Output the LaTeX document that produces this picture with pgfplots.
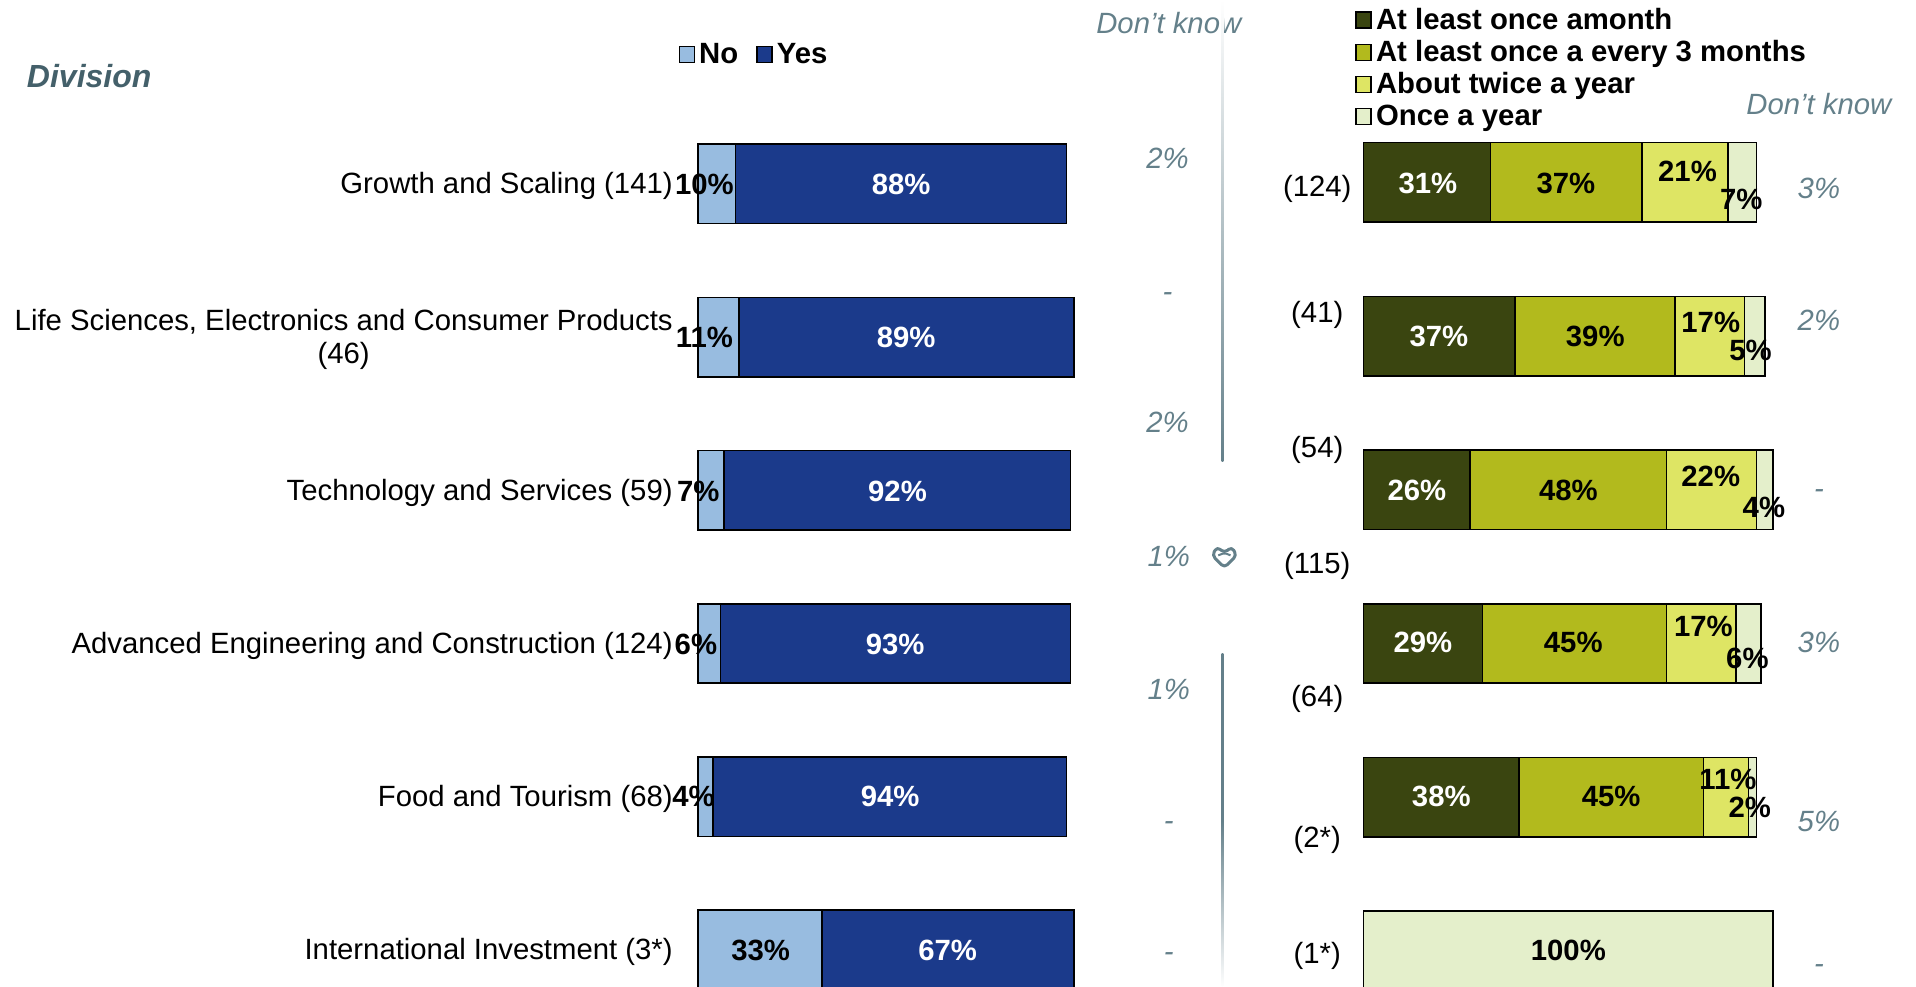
\documentclass[border=0pt]{standalone}
\usepackage{pgfplots}
\pgfplotsset{compat=1.18}
\usepackage{fontspec}
\setmainfont{Liberation Sans}
\definecolor{cNo}{HTML}{98BCE0}
\definecolor{cYes}{HTML}{1B3A8B}
\definecolor{cA}{HTML}{3A4510}
\definecolor{cB}{HTML}{B2BA1D}
\definecolor{cC}{HTML}{DEE564}
\definecolor{cD}{HTML}{E4EFCB}
\definecolor{cGrey}{HTML}{64808A}
\definecolor{cDiv}{HTML}{44606A}
\pgfplotsset{
  common/.style={
    scale only axis, xbar stacked, bar width=39.7pt,
    xmin=0, xmax=100, ymin=0.5, ymax=6.5, y dir=reverse,
    height=459.7pt, clip=false,
    axis x line=none, axis y line=left, y axis line style={draw=none},
    major tick length=0pt, ytick={1,2,3,4,5,6},
    legend image code/.code={\draw[##1,line width=0.8pt] (0pt,-4pt) rectangle (7.5pt,4pt);},
    legend cell align=left,
  },
  seg/.style={fill=#1, draw=black, line width=0.8pt},
}
\newcommand{\bl}[3]{\node[font=\fontsize{14.65}{16}\selectfont\bfseries,text=#3] at (#1) {#2};}
\newcommand{\dk}[2]{\node[font=\fontsize{14.65}{16}\selectfont\itshape,text=cGrey] at (#1) {#2};}
\begin{document}
\begin{tikzpicture}[x=0.61097pt,y=-0.61097pt]
\clip (0,0) rectangle (1568,807.7);
% left panel
\begin{axis}[common, at={(348.87pt,-53.6pt)}, anchor=north west, width=188.18pt,
  yticklabels={{Growth and Scaling (141)},{Life Sciences, Electronics and Consumer Products\\(46)},{Technology and Services (59)},{Advanced Engineering and Construction (124)},{Food and Tourism (68)},{International Investment (3*)}},
  yticklabel style={font=\fontsize{14.65}{16.5}\selectfont, align=center, anchor=east, xshift=-9pt, yshift=-1.2pt},
  legend columns=2,
  legend style={at={(axis description cs:-0.052,1.0745)},anchor=north west,draw=none,fill=none,
    font=\fontsize{14.65}{16}\selectfont\bfseries,inner sep=0pt,
    /tikz/every even column/.style={column sep=7pt}},
]
\addplot[seg=cNo] coordinates {(10,1) (11,2) (7,3) (6,4) (4,5) (33,6)};
\addplot[seg=cYes] coordinates {(88,1) (89,2) (92,3) (93,4) (94,5) (67,6)};
\legend{No,Yes}
\end{axis}
% right panel
\begin{axis}[common, at={(681.84pt,-52.7pt)}, anchor=north west, width=204.67pt, height=461.2pt,
  yticklabels={,,,,,},
  legend style={at={(axis description cs:-0.021,1.1104)},anchor=north west,draw=none,fill=none,
    font=\fontsize{14.65}{15.5}\selectfont\bfseries,inner sep=0pt},
]
\addplot[seg=cA] coordinates {(31,1) (37,2) (26,3) (29,4) (38,5) (0,6)};
\addplot[seg=cB] coordinates {(37,1) (39,2) (48,3) (45,4) (45,5) (0,6)};
\addplot[seg=cC] coordinates {(21,1) (17,2) (22,3) (17,4) (11,5) (0,6)};
\addplot[seg=cD] coordinates {(7,1) (5,2) (4,3) (6,4) (2,5) (100,6)};
\legend{At least once amonth,At least once a every 3 months,About twice a year,Once a year}
\end{axis}
% data labels, left
\bl{576.5,151}{10\%}{black}\bl{737.5,151}{88\%}{white}
\bl{576.5,276}{11\%}{black}\bl{741.5,276}{89\%}{white}
\bl{571.5,402}{7\%}{black}\bl{734.5,402}{92\%}{white}
\bl{569.5,527}{6\%}{black}\bl{732.5,527}{93\%}{white}
\bl{567.5,652}{4\%}{black}\bl{728.5,652}{94\%}{white}
\bl{622.5,778}{33\%}{black}\bl{775.5,778}{67\%}{white}
% data labels, right
\bl{1168.5,150}{31\%}{white}\bl{1281.5,150}{37\%}{black}\bl{1381,140}{21\%}{black}\bl{1425,163}{7\%}{black}
\bl{1177.5,275}{37\%}{white}\bl{1305.5,275}{39\%}{black}\bl{1400,264}{17\%}{black}\bl{1432.5,287}{5\%}{black}
\bl{1159.5,401}{26\%}{white}\bl{1283.5,401}{48\%}{black}\bl{1400,390}{22\%}{black}\bl{1443.5,415}{4\%}{black}
\bl{1164.5,526}{29\%}{white}\bl{1287.5,526}{45\%}{black}\bl{1394,513}{17\%}{black}\bl{1430,539}{6\%}{black}
\bl{1179.5,652}{38\%}{white}\bl{1318.5,652}{45\%}{black}\bl{1414,638}{11\%}{black}\bl{1432,661}{2\%}{black}
\bl{1283.5,778}{100\%}{black}
% counts
\foreach \yy/\lab in {155/(124),258/(41),368/(54),463/(115),572/(64),687/(2*),782/(1*)}{
  \node[font=\fontsize{14.65}{16}\selectfont] at (1078,\yy) {\lab};
}
% don't know left
\dk{956.5,19}{Don't know}
\dk{955.5,130}{2\%}\dk{955.5,243}{-}\dk{955.5,346}{2\%}\dk{956.5,455}{1\%}\dk{956.5,564}{1\%}\dk{956.5,676}{-}\dk{956.5,783}{-}
% don't know right
\dk{1488.5,85}{Don't know}
\dk{1488.5,154}{3\%}\dk{1488.5,262}{2\%}\dk{1488.5,404}{-}\dk{1488.5,526}{3\%}\dk{1488.5,672}{5\%}\dk{1488.5,793}{-}
% division
\node[font=\fontsize{16}{18}\selectfont\bfseries\itshape,text=cDiv] at (73,62) {Division};
% divider
\shade[top color=white,bottom color=cGrey] (999.8,0) rectangle (1001.2,378);
\shade[top color=cGrey,bottom color=white,middle color=cGrey] (999.8,535) rectangle (1001.2,808);
% emblem
\begin{scope}[shift={(1002,455.5)}]
\draw[cGrey,line width=1.5pt,line join=round,rounded corners=2pt] (0,9) -- (-10,-1) -- (-6,-8) -- (0,-3) -- (6,-8) -- (10,-1) -- cycle;
\draw[cGrey,line width=1pt,line join=round,rounded corners=1pt] (-5,-1) -- (0,-3) -- (5,-1);
\end{scope}
\end{tikzpicture}
\end{document}
